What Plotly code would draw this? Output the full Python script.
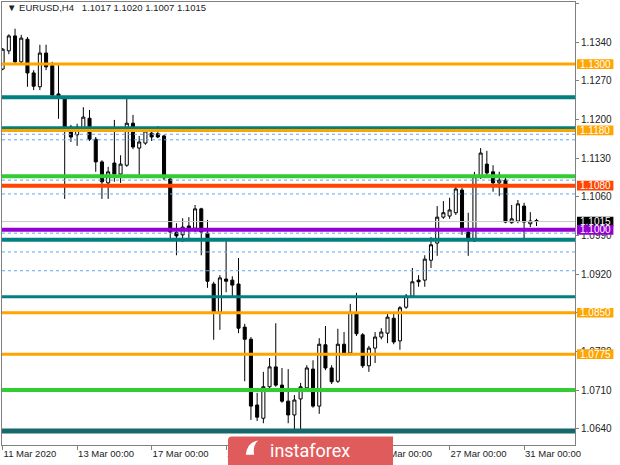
import plotly.graph_objects as go

# ---------------- data ----------------
header_text = "\u25BC EURUSD,H4\u00a0\u00a0 1.1017 1.1020 1.1007 1.1015"

opens = [1.1291,1.1324,1.1351,1.1304,1.1345,1.1284,1.1259,1.1320,1.1297,1.1246,
         1.1240,1.1186,1.1172,1.1184,1.1202,1.1164,1.1123,1.1085,1.1121,1.1101,
         1.1117,1.1193,1.1148,1.1157,1.1175,1.1174,1.1170,1.1092,1.0995,1.0991,
         1.1007,1.1003,1.1038,1.0994,1.0902,1.0851,1.0911,1.0909,1.0902,1.0824,
         1.0802,1.0683,1.0659,1.0716,1.0752,1.0719,1.0690,1.0665,1.0694,1.0714,
         1.0748,1.0681,1.0792,1.0750,1.0726,1.0793,1.0777,1.0850,1.0810,1.0754,
         1.0786,1.0806,1.0813,1.0840,1.0799,1.0860,1.0880,1.0909,1.0909,1.0945,
         1.0976,1.1023,1.1025,1.1031,1.1072,1.0996,1.0980,1.1096,1.1119,1.1105,
         1.1085,1.1090,1.1013,1.1016,1.1043,1.1011,1.1017]
highs = [1.1329,1.1354,1.1364,1.1353,1.1349,1.1289,1.1335,1.1335,1.1304,1.1298,
         1.1242,1.1190,1.1192,1.1222,1.1217,1.1168,1.1126,1.1114,1.1199,1.1135,
         1.1239,1.1208,1.1170,1.1186,1.1181,1.1188,1.1172,1.1096,1.1012,1.1021,
         1.1023,1.1045,1.1040,1.1018,1.0906,1.0918,1.0982,1.0916,1.0949,1.0830,
         1.0806,1.0705,1.0743,1.0768,1.0831,1.0750,1.0748,1.0701,1.0723,1.0755,
         1.0764,1.0804,1.0826,1.0755,1.0821,1.0815,1.0866,1.0886,1.0813,1.0790,
         1.0815,1.0822,1.0850,1.0850,1.0862,1.0884,1.0931,1.0918,1.0954,1.0987,
         1.1043,1.1052,1.1058,1.1079,1.1076,1.1031,1.1105,1.1148,1.1143,1.1117,
         1.1105,1.1094,1.1045,1.1054,1.1049,1.1032,1.1020]
lows = [1.1289,1.1318,1.1302,1.1302,1.1259,1.1253,1.1253,1.1289,1.1240,1.1201,
        1.1056,1.1159,1.1152,1.1181,1.1161,1.1105,1.1056,1.1056,1.1087,1.1085,
        1.1114,1.1146,1.1096,1.1154,1.1161,1.1166,1.1090,1.0982,1.0954,1.0978,
        1.0985,1.0996,1.0954,1.0895,1.0801,1.0819,1.0887,1.0878,1.0813,1.0726,
        1.0656,1.0654,1.0650,1.0712,1.0716,1.0687,1.0650,1.0636,1.0636,1.0710,
        1.0678,1.0667,1.0746,1.0721,1.0723,1.0773,1.0773,1.0808,1.0750,1.0743,
        1.0759,1.0802,1.0795,1.0793,1.0783,1.0857,1.0878,1.0897,1.0897,1.0931,
        1.0953,1.1020,1.1020,1.1027,1.0991,1.0953,1.0978,1.1092,1.1094,1.1069,
        1.1061,1.1012,1.1011,1.1012,1.0983,1.1005,1.1007]
closes = [1.1327,1.1351,1.1304,1.1347,1.1284,1.1260,1.1320,1.1295,1.1244,1.1239,
          1.1184,1.1168,1.1186,1.1204,1.1164,1.1123,1.1087,1.1105,1.1101,1.1119,
          1.1193,1.1150,1.1159,1.1179,1.1168,1.1168,1.1094,1.0996,1.0989,1.1005,
          1.1002,1.1038,1.0996,1.0907,1.0851,1.0913,1.0907,1.0900,1.0822,1.0802,
          1.0681,1.0661,1.0716,1.0752,1.0719,1.0690,1.0665,1.0692,1.0716,1.0750,
          1.0681,1.0793,1.0750,1.0725,1.0793,1.0777,1.0851,1.0812,1.0754,1.0786,
          1.0806,1.0815,1.0842,1.0797,1.0859,1.0880,1.0906,1.0906,1.0947,1.0973,
          1.1023,1.1031,1.1036,1.1074,1.1002,1.0980,1.1097,1.1139,1.1103,1.1085,
          1.1090,1.1014,1.1020,1.1047,1.1014,1.1016,1.1015]
bar_index = list(range(len(opens)))

date_tick_index = [0, 12, 24, 36, 48, 60, 72, 84]
date_tick_labels = ["11 Mar 2020", "13 Mar 00:00", "17 Mar 00:00", "19 Mar 00:00",
                    "23 Mar 00:00", "25 Mar 00:00", "27 Mar 00:00", "31 Mar 00:00"]

price_ticks = [1.0640, 1.0710, 1.0780, 1.0850, 1.0920, 1.0990,
               1.1060, 1.1130, 1.1200, 1.1270, 1.1340, 1.1410]
price_tick_labels = ["%.4f" % v for v in price_ticks]

level_prices = [1.1300, 1.1240, 1.1184, 1.1180, 1.1097, 1.1080, 1.1015,
                1.1000, 1.0982, 1.0879, 1.0850, 1.0775, 1.0710, 1.0636]
level_colors = ["#FFA500", "#008080", "#008080", "#FFA500", "#32CD32", "#FF4500", "#C8C8C8",
                "#9400D3", "#008080", "#008080", "#FFA500", "#FFA500", "#32CD32", "#17686B"]
level_widths = [3, 4, 4, 3, 4, 4, 1, 4, 4, 3, 3, 3, 4, 5]

dotted_prices = [1.1173, 1.1163, 1.1090, 1.1065, 1.0994, 1.0960, 1.0926]

label_prices = [1.1300, 1.1180, 1.1080, 1.1015, 1.1000, 1.0850, 1.0775]
label_texts = ["1.1300", "1.1180", "1.1080", "1.1015", "1.1000", "1.0850", "1.0775"]
label_colors = ["#FFA500", "#FFA500", "#FF4500", "#000000", "#9400D3", "#FFA500", "#FFA500"]

watermark_text = "instaforex"

# ---------------- figure ----------------
FONT = "Liberation Sans"
Y_RANGE = [1.06106, 1.14124]
X_RANGE = [-0.1, 92.2]

fig = go.Figure()
fig.add_trace(go.Candlestick(
    x=bar_index, open=opens, high=highs, low=lows, close=closes,
    increasing=dict(line=dict(color="black", width=1), fillcolor="white"),
    decreasing=dict(line=dict(color="black", width=1), fillcolor="black"),
    whiskerwidth=0, showlegend=False, hoverinfo="skip",
))

shapes = []
for p, c, w in zip(level_prices, level_colors, level_widths):
    shapes.append(dict(type="line", xref="paper", yref="y", x0=0, x1=1, y0=p, y1=p,
                       line=dict(color=c, width=w), layer="above"))
for p in dotted_prices:
    shapes.append(dict(type="line", xref="paper", yref="y", x0=0, x1=1, y0=p, y1=p,
                       line=dict(color="#5DA8F0", width=1, dash="dot"), layer="above"))

# price label boxes on the right axis
half_h = 0.00087
annotations = []
for p, t, c in zip(label_prices, label_texts, label_colors):
    shapes.append(dict(type="rect", xref="paper", yref="y", x0=1.0035, x1=1.067,
                       y0=p - half_h, y1=p + half_h, fillcolor=c, line=dict(width=0),
                       layer="above"))
    annotations.append(dict(xref="paper", yref="y", x=1.0352, y=p, text=t, showarrow=False,
                            xanchor="center", yanchor="middle",
                            font=dict(family=FONT, size=10, color="white")))

# watermark box (covers the axis labels beneath it)
shapes.append(dict(type="path", xref="paper", yref="paper",
                   path="M 0.3944,-0.05 L 0.3944,0.010 Q 0.3944,0.0192 0.401,0.0192 "
                        "L 0.6824,0.0192 L 0.6824,-0.05 Z",
                   fillcolor="#E05C5C", line=dict(width=0), layer="above"))
# simple logo mark
shapes.append(dict(type="path", xref="paper", yref="paper",
                   path="M 0.4255,-0.022 Q 0.428,0.006 0.447,0.010 Q 0.437,0.000 0.440,-0.022 Z",
                   fillcolor="white", line=dict(width=0), layer="above"))
annotations.append(dict(xref="paper", yref="paper", x=0.5375, y=-0.0113, text=watermark_text,
                        showarrow=False, xanchor="center", yanchor="middle",
                        font=dict(family="Roboto", size=18, color="white")))

# header
annotations.append(dict(xref="paper", yref="paper", x=0.005, y=0.9865, text=header_text,
                        showarrow=False, xanchor="left", yanchor="middle",
                        font=dict(family=FONT, size=9.5, color="#222222")))

fig.update_layout(
    width=620, height=465,
    margin=dict(l=2, r=45, t=2, b=20),
    paper_bgcolor="white", plot_bgcolor="white",
    shapes=shapes, annotations=annotations,
    showlegend=False, hovermode=False,
    xaxis=dict(range=X_RANGE, rangeslider=dict(visible=False), showgrid=False,
               zeroline=False, showline=True, mirror=True, linecolor="#808080",
               linewidth=1, ticks="outside", ticklen=4, tickcolor="#808080",
               tickvals=date_tick_index, ticktext=date_tick_labels,
               ticklabelposition="outside right", ticklabeloverflow="allow",
               tickfont=dict(family=FONT, size=9.5, color="#222222"),
               automargin=False, fixedrange=True),
    yaxis=dict(range=Y_RANGE, side="right", showgrid=False, zeroline=False,
               showline=True, mirror=True, linecolor="#808080", linewidth=1,
               ticks="outside", ticklen=3, tickcolor="#808080",
               tickvals=price_ticks, ticktext=price_tick_labels, automargin=False,
               tickfont=dict(family=FONT, size=10, color="#222222"), fixedrange=True),
)

fig.write_html("out.html", config={"displayModeBar": False},
               post_script="document.body.style.margin='0';document.body.style.overflow='hidden';")
